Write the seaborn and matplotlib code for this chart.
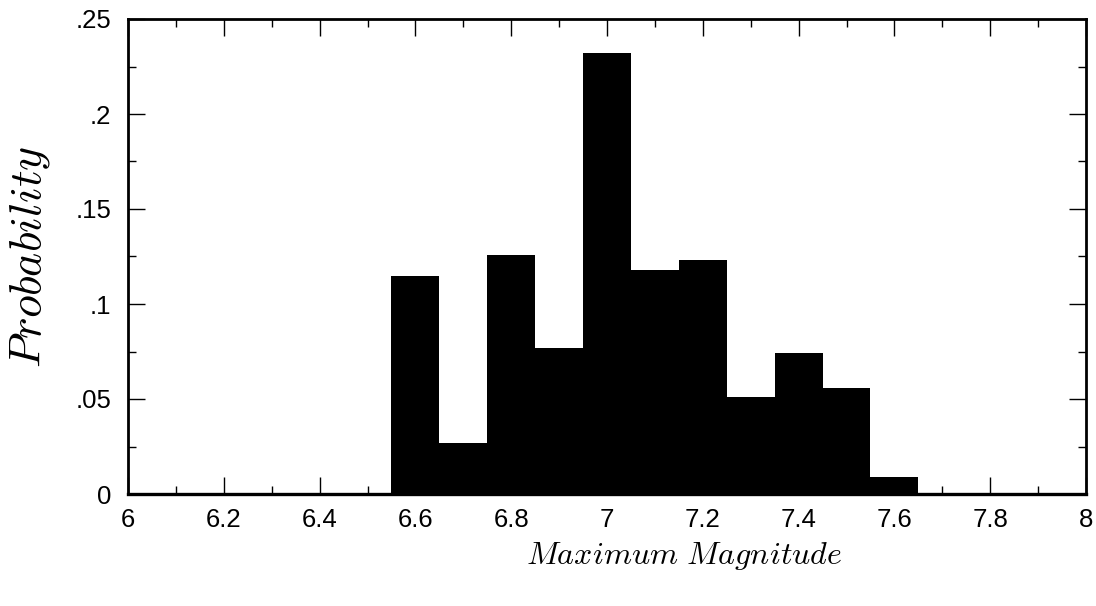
import matplotlib
matplotlib.use("Agg")
import matplotlib.pyplot as plt
from matplotlib.ticker import MultipleLocator, FixedLocator
import numpy as np
import pandas as pd
import seaborn as sns

# Probability of each maximum-magnitude bin (bin width 0.1)
magnitudes = [6.6, 6.7, 6.8, 6.9, 7.0, 7.1, 7.2, 7.3, 7.4, 7.5, 7.6]
probabilities = [0.115, 0.027, 0.126, 0.077, 0.232, 0.118, 0.123, 0.051, 0.074, 0.056, 0.009]

x_ticks = [6.0, 6.2, 6.4, 6.6, 6.8, 7.0, 7.2, 7.4, 7.6, 7.8, 8.0]
x_tick_labels = ["6", "6.2", "6.4", "6.6", "6.8", "7", "7.2", "7.4", "7.6", "7.8", "8"]
y_ticks = [0.0, 0.05, 0.10, 0.15, 0.20, 0.25]
y_tick_labels = ["0", ".05", ".1", ".15", ".2", ".25"]

df = pd.DataFrame({"magnitude": magnitudes, "probability": probabilities})

sns.set_theme(style="white")
plt.rcParams["font.family"] = ["Liberation Sans", "DejaVu Sans"]
plt.rcParams["mathtext.fontset"] = "cm"

W, H = 1096, 606
fig = plt.figure(figsize=(W / 100, H / 100), dpi=100)
left, right, top, bottom = 128, 1086, 19, 494
ax = fig.add_axes([left / W, 1 - bottom / H, (right - left) / W, (bottom - top) / H])

sns.histplot(
    data=df, x="magnitude", weights="probability",
    binwidth=0.1, binrange=(6.55, 7.65),
    color="black", alpha=1.0, linewidth=0, edgecolor="black",
    stat="count", ax=ax,
)

ax.set_xlim(6.0, 8.0)
ax.set_ylim(0.0, 0.25)

ax.xaxis.set_major_locator(FixedLocator(x_ticks))
ax.set_xticklabels(x_tick_labels)
ax.xaxis.set_minor_locator(MultipleLocator(0.1))
ax.yaxis.set_major_locator(FixedLocator(y_ticks))
ax.set_yticklabels(y_tick_labels)
ax.yaxis.set_minor_locator(MultipleLocator(0.025))

ax.tick_params(which="both", direction="in", top=True, right=True,
               bottom=True, left=True, color="black")
ax.tick_params(which="major", length=12, width=1.0, labelsize=18.5,
               labelcolor="black")
ax.tick_params(axis="x", which="major", pad=10)
ax.tick_params(axis="y", which="major", pad=12)
ax.tick_params(which="minor", length=6, width=1.0)

for side, spine in ax.spines.items():
    spine.set_visible(True)
    spine.set_color("black")
    spine.set_linewidth(2.0)
ax.spines["bottom"].set_linewidth(2.4)

ax.set_xlabel(r"$Maximum\ Magnitude$", fontsize=23, color="black",
              va="center", ha="center")
ax.xaxis.set_label_coords(0.58, -0.13)
ax.set_ylabel(r"$Probability$", fontsize=33, color="black",
              va="center", ha="center")
ax.yaxis.set_label_coords(-0.102, 0.5)
ax.grid(False)

fig.savefig("out.png", dpi=100, facecolor="white")
